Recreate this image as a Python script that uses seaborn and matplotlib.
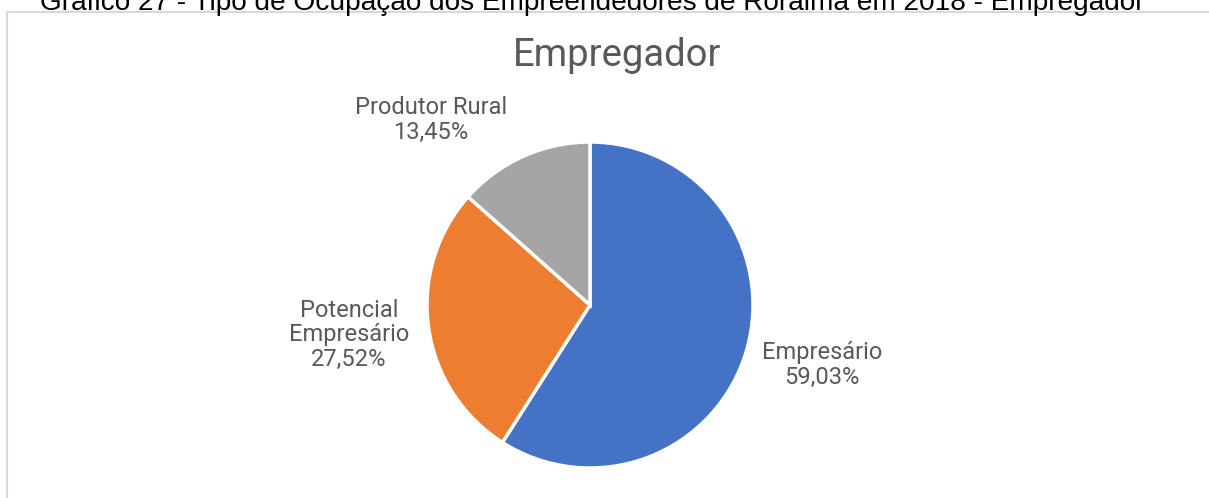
import matplotlib
matplotlib.use("Agg")
import matplotlib.pyplot as plt
import matplotlib.patches as mpatches
import seaborn as sns

# dados do gráfico
categorias = ["Empresário", "Potencial\nEmpresário", "Produtor Rural"]
percentuais = [59.03, 27.52, 13.45]
cores = ["#4472C4", "#ED7D31", "#A5A5A5"]

titulo_doc = "Gráfico 27 - Tipo de Ocupação dos Empreendedores de Roraima em 2018 - Empregador"
titulo_graf = "Empregador"

W, H = 1209, 498
sns.set_theme(style="white")
plt.rcParams["font.family"] = ["Roboto", "DejaVu Sans"]

fig = plt.figure(figsize=(W / 100, H / 100), dpi=100)
ax = fig.add_axes([0, 0, 1, 1])

# moldura do gráfico (cortada à direita e embaixo)
fig.patches.append(mpatches.Rectangle((7 / W, -0.1), 1.1, 1 - 12 / H + 0.1,
                                      transform=fig.transFigure, fill=False,
                                      edgecolor="#D9D9D9", linewidth=1.5))

wedges, _ = ax.pie(percentuais, colors=cores, startangle=90, counterclock=False,
                   center=(590, H - 305), radius=163,
                   wedgeprops={"edgecolor": "white", "linewidth": 2.5})
ax.set_xlim(0, W)
ax.set_ylim(0, H)
ax.set_aspect("equal")
ax.axis("off")

# rótulos (posição em pixels, estilo Excel "melhor ajuste")
pos_rotulos = [(822, 365), (349, 335), (431, 120)]
for cat, pct, (px, py) in zip(categorias, percentuais, pos_rotulos):
    txt = f"{cat}\n{pct:.2f}%".replace(".", ",")
    ax.text(px, H - py, txt, ha="center", va="center", fontsize=17,
            color="#595959", linespacing=1.08)

ax.text(617, H - 55, titulo_graf, ha="center", va="center", fontsize=27.5,
        color="#595959")

fig.text(592 / W, 1 - 10 / H, titulo_doc, ha="center", va="baseline",
         fontsize=20.2, color="black", family=["Liberation Sans", "DejaVu Sans"])

fig.savefig("out.png", dpi=100)
